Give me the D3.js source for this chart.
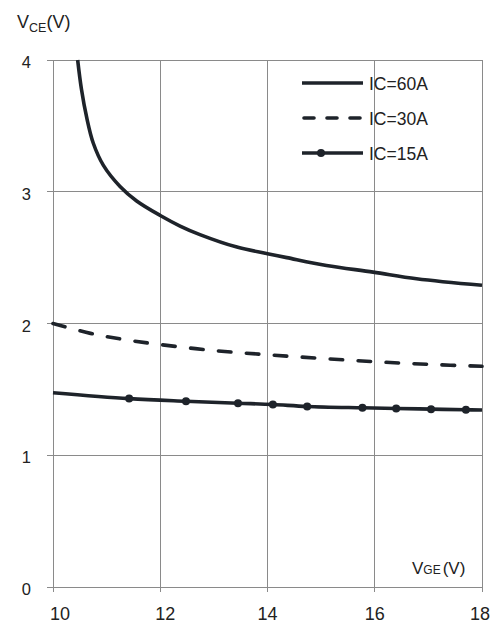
<!DOCTYPE html>
<html>
<head>
<meta charset="utf-8">
<script src="https://cdn.jsdelivr.net/npm/d3@7"></script>
<style>
  html, body { margin: 0; padding: 0; background: #fff; }
  svg { display: block; font-family: "Liberation Sans", Arial, sans-serif; }
</style>
</head>
<body>
<svg id="chart" width="499" height="625"></svg>
<script>
// Collector-emitter saturation voltage vs gate-emitter voltage
const xTicks = [10, 12, 14, 16, 18];
const yTicks = [0, 1, 2, 3, 4];

const ic60Vge = [10.46, 10.53, 10.63, 10.75, 10.94, 11.25, 11.56, 12.0, 12.37, 12.74, 13.43, 14.0, 14.36, 15.1, 15.97, 16.78, 18.0];
const ic60Vce = [4.0, 3.78, 3.56, 3.37, 3.20, 3.04, 2.93, 2.82, 2.74, 2.675, 2.58, 2.53, 2.50, 2.44, 2.39, 2.34, 2.29];

const ic30Vge = [10.0, 10.7, 11.3, 12.0, 13.0, 14.0, 15.0, 16.0, 17.0, 18.0];
const ic30Vce = [2.0, 1.925, 1.88, 1.84, 1.795, 1.763, 1.735, 1.71, 1.69, 1.675];

const ic15Vge = [10.0, 11.42, 12.48, 13.45, 14.1, 14.74, 15.77, 16.4, 17.05, 17.7, 18.0];
const ic15Vce = [1.475, 1.43, 1.41, 1.395, 1.385, 1.37, 1.36, 1.355, 1.35, 1.345, 1.343];

const seriesNames = ["IC=60A", "IC=30A", "IC=15A"];

const ink = "#1e232a";
const gridColor = "#8a8a8a";
const textColor = "#222";

const svg = d3.select("#chart");
const plotL = 53, plotR = 482, plotT = 60, plotB = 587;

const x = d3.scaleLinear().domain([10, 18]).range([plotL, plotR]);
const y = d3.scaleLinear().domain([0, 4]).range([plotB, plotT]);

// grid
const g = svg.append("g");
g.selectAll(".vgrid").data(xTicks).join("line")
  .attr("x1", d => x(d)).attr("x2", d => x(d))
  .attr("y1", plotT).attr("y2", plotB + 5)
  .attr("stroke", gridColor).attr("stroke-width", 1)
  .attr("shape-rendering", "crispEdges");
g.selectAll(".hgrid").data(yTicks).join("line")
  .attr("x1", plotL - 6).attr("x2", plotR)
  .attr("y1", d => y(d)).attr("y2", d => y(d))
  .attr("stroke", gridColor).attr("stroke-width", 1)
  .attr("shape-rendering", "crispEdges");

// tick labels
svg.selectAll(".ylab").data(yTicks).join("text")
  .attr("x", 31).attr("y", d => y(d) + 8)
  .attr("text-anchor", "end").attr("font-size", 16.5).attr("fill", textColor)
  .text(d => d);
svg.selectAll(".xlab").data(xTicks).join("text")
  .attr("x", d => x(d) + (d === 10 ? 7 : d === 12 ? 5 : d === 18 ? -2 : 0))
  .attr("y", 620)
  .attr("text-anchor", "middle").attr("font-size", 18).attr("fill", textColor)
  .text(d => d);

// axis titles
const yt = svg.append("text").attr("x", 17).attr("y", 28).attr("font-size", 18).attr("fill", textColor);
yt.append("tspan").text("V");
yt.append("tspan").attr("font-size", 12.5).attr("dy", 4).text("CE");
yt.append("tspan").attr("dy", -4).text("(V)");

const xt = svg.append("text").attr("x", 412).attr("y", 574).attr("font-size", 17).attr("fill", textColor);
xt.append("tspan").text("V");
xt.append("tspan").attr("font-size", 12).text("GE");
xt.append("tspan").attr("dx", 2).text("(V)");

// curves
const line = d3.line().x(d => x(d[0])).y(d => y(d[1])).curve(d3.curveCatmullRom.alpha(0.5));
const zip = (a, b) => a.map((v, i) => [v, b[i]]);

const s60 = zip(ic60Vge, ic60Vce);
const s30 = zip(ic30Vge, ic30Vce);
const s15 = zip(ic15Vge, ic15Vce);

svg.append("path").attr("d", line(s60)).attr("fill", "none")
  .attr("stroke", ink).attr("stroke-width", 3.6).attr("stroke-linejoin", "round");
svg.append("path").attr("d", line(s30)).attr("fill", "none")
  .attr("stroke", ink).attr("stroke-width", 3.6)
  .attr("stroke-linecap", "round").attr("stroke-dasharray", "12.5,15.5");
svg.append("path").attr("d", line(s15)).attr("fill", "none")
  .attr("stroke", ink).attr("stroke-width", 3.6).attr("stroke-linejoin", "round");
svg.selectAll(".m15").data(s15.slice(1, -1)).join("circle")
  .attr("cx", d => x(d[0])).attr("cy", d => y(d[1])).attr("r", 4)
  .attr("fill", ink);

// legend
const legY = [83, 118, 153];
const lx0 = 302, lx1 = 363;
const leg = svg.append("g");
seriesNames.forEach((name, i) => {
  const ln = leg.append("line").attr("x1", lx0).attr("x2", lx1)
    .attr("y1", legY[i]).attr("y2", legY[i])
    .attr("stroke", ink).attr("stroke-width", 3.6);
  if (i === 1) ln.attr("stroke-dasharray", "10,13").attr("stroke-linecap", "round").attr("x1", lx0 + 2);
  if (i === 2) leg.append("circle").attr("cx", 321).attr("cy", legY[i]).attr("r", 4).attr("fill", ink);
  leg.append("text").attr("x", 369).attr("y", legY[i] + 6.5)
    .attr("font-size", 17.5).attr("fill", textColor).text(name);
});
</script>
</body>
</html>
